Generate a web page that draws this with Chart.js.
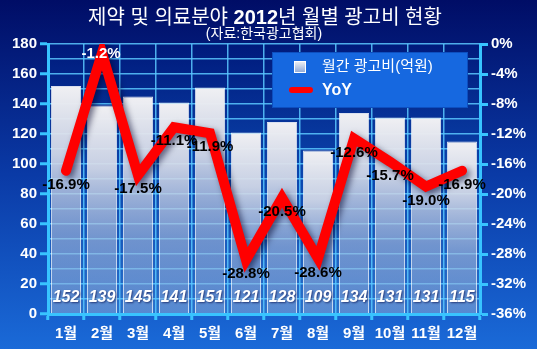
<!DOCTYPE html>
<html>
<head>
<meta charset="utf-8">
<script src="https://cdn.jsdelivr.net/npm/chart.js@4.4.0/dist/chart.umd.min.js"></script>
<style>
    body { margin: 0; overflow: hidden; background: #0a3aa8; }
    #wrap { position: relative; width: 537px; height: 349px; }
    #title {
        position: absolute; left: 0; top: 5px; width: 530px; text-align: center;
        color: #fff; font-family: Arial, 'Liberation Sans', 'Noto Sans CJK KR', sans-serif;
        font-size: 20px; line-height: 24px;
    }
    #subtitle {
        position: absolute; left: 0; top: 24px; width: 528px; text-align: center;
        color: #fff; font-family: Arial, 'Liberation Sans', 'Noto Sans CJK KR', sans-serif;
        font-size: 14px; line-height: 18px;
    }
</style>
</head>
<body>
<div id="wrap">
    <canvas id="chart" width="537" height="349"></canvas>
    <div id="title">제약 및 의료분야 <b>2012</b>년 월별 광고비 현황</div>
    <div id="subtitle">(자료:한국광고협회)</div>
</div>
<script>
// chart data
var months = ['1월', '2월', '3월', '4월', '5월', '6월', '7월', '8월', '9월', '10월', '11월', '12월'];
var ad_spend = [152, 139, 145, 141, 151, 121, 128, 109, 134, 131, 131, 115];
var yoy = [-16.9, -1.2, -17.5, -11.1, -11.9, -28.8, -20.5, -28.6, -12.6, -15.7, -19.0, -16.9];
var series_names = ['월간 광고비(억원)', 'YoY'];

var FONT = "Arial, 'Liberation Sans', 'Noto Sans CJK KR', sans-serif";
var CYAN = '#38c4ff';
var GRID = 'rgba(90, 200, 255, 0.85)';

// gradient backgrounds for the canvas and the plot area
var backgroundPlugin = {
    id: 'backgrounds',
    beforeDraw: function(chart) {
        var ctx = chart.ctx;
        var ca = chart.chartArea;
        var g = ctx.createLinearGradient(0, 0, 0, chart.height);
        g.addColorStop(0, '#000d66');
        g.addColorStop(0.5, '#0a3aa6');
        g.addColorStop(1, '#1a6ad8');
        ctx.save();
        ctx.fillStyle = g;
        ctx.fillRect(0, 0, chart.width, chart.height);
        var g2 = ctx.createLinearGradient(0, ca.top, 0, ca.bottom);
        g2.addColorStop(0, '#001a7c');
        g2.addColorStop(0.5, '#0b46ae');
        g2.addColorStop(1, '#2a72cc');
        ctx.fillStyle = g2;
        ctx.fillRect(ca.left, ca.top, ca.right - ca.left, ca.bottom - ca.top);
        ctx.restore();
    }
};

// value labels: bar values at the bottom, yoy values under the points
var labelsPlugin = {
    id: 'valueLabels',
    beforeDatasetDraw: function(chart, args) {
        // soft shadow under the yoy line
        if (args.index === 1) {
            var ctx = chart.ctx;
            ctx.save();
            ctx.shadowColor = 'rgba(0, 0, 40, 0.55)';
            ctx.shadowBlur = 6;
            ctx.shadowOffsetX = 3;
            ctx.shadowOffsetY = 3;
        }
    },
    afterDatasetDraw: function(chart, args) {
        if (args.index === 1) {
            chart.ctx.restore();
        }
    },
    afterDatasetsDraw: function(chart) {
        var ctx = chart.ctx;
        var ca = chart.chartArea;
        // bar values
        var bars = chart.getDatasetMeta(0).data;
        ctx.save();
        ctx.textAlign = 'center';
        ctx.textBaseline = 'middle';
        ctx.font = 'italic bold 16px ' + FONT;
        ctx.fillStyle = '#ffffff';
        ctx.shadowColor = 'rgba(0, 0, 60, 0.6)';
        ctx.shadowBlur = 2;
        ctx.shadowOffsetX = 1;
        ctx.shadowOffsetY = 1;
        for (var i = 0; i < bars.length; i++) {
            ctx.fillText(ad_spend[i], bars[i].x, ca.bottom - 16);
        }
        ctx.restore();
        // yoy values
        var points = chart.getDatasetMeta(1).data;
        ctx.save();
        ctx.textAlign = 'center';
        ctx.textBaseline = 'middle';
        ctx.font = 'bold 15px ' + FONT;
        for (var j = 0; j < points.length; j++) {
            var p = points[j];
            var text = yoy[j].toFixed(1) + '%';
            if (p.y - ca.top < 20) {
                ctx.fillStyle = '#ffffff';
                ctx.fillText(text, p.x - 1, p.y + 1);
            } else {
                ctx.fillStyle = '#000000';
                ctx.fillText(text, p.x, p.y + 14);
            }
        }
        ctx.restore();
    }
};

// legend box inside the plot
var legendPlugin = {
    id: 'boxLegend',
    afterDraw: function(chart) {
        var ctx = chart.ctx;
        ctx.save();
        ctx.fillStyle = '#1668e0';
        ctx.fillRect(272, 52, 196, 56);
        ctx.strokeStyle = '#0d4fc0';
        ctx.lineWidth = 1;
        ctx.strokeRect(272.5, 52.5, 195, 55);
        // bar icon
        var g = ctx.createLinearGradient(0, 61, 0, 74);
        g.addColorStop(0, '#f4f4f4');
        g.addColorStop(1, '#7f9fd6');
        ctx.fillStyle = g;
        ctx.fillRect(294, 61, 12, 12);
        ctx.strokeStyle = '#ffffff';
        ctx.strokeRect(294.5, 61.5, 11, 11);
        // line icon
        ctx.strokeStyle = '#ff0000';
        ctx.lineWidth = 6;
        ctx.lineCap = 'round';
        ctx.beginPath();
        ctx.moveTo(292, 90);
        ctx.lineTo(310, 90);
        ctx.stroke();
        // texts
        ctx.fillStyle = '#ffffff';
        ctx.textBaseline = 'middle';
        ctx.textAlign = 'left';
        ctx.font = '15px ' + FONT;
        ctx.fillText(series_names[0], 322, 67);
        ctx.font = 'bold 16px ' + FONT;
        ctx.fillText(series_names[1], 322, 91);
        ctx.restore();
    }
};

var ctx = document.getElementById('chart').getContext('2d');
var myChart = new Chart(ctx, {
    type: 'bar',
    data: {
        labels: months,
        datasets: [{
            type: 'bar',
            label: series_names[0],
            data: ad_spend,
            yAxisID: 'y',
            order: 1,
            barPercentage: 0.84,
            categoryPercentage: 1,
            borderColor: 'rgba(255, 255, 255, 0.85)',
            borderWidth: 1,
            backgroundColor: function(c) {
                var chart = c.chart;
                if (!chart.chartArea || !chart.scales.y) return '#dddddd';
                var top = chart.scales.y.getPixelForValue(c.raw);
                var bottom = chart.chartArea.bottom;
                var g = chart.ctx.createLinearGradient(0, top, 0, bottom);
                g.addColorStop(0, 'rgba(240, 240, 243, 1)');
                g.addColorStop(0.3, 'rgba(214, 219, 232, 0.92)');
                g.addColorStop(0.65, 'rgba(170, 186, 218, 0.6)');
                g.addColorStop(1, 'rgba(140, 166, 216, 0.45)');
                return g;
            }
        }, {
            type: 'line',
            label: series_names[1],
            data: yoy,
            yAxisID: 'y1',
            order: 0,
            borderColor: '#ff0000',
            borderWidth: 10,
            borderCapStyle: 'round',
            borderJoinStyle: 'miter',
            pointRadius: 0,
            tension: 0
        }]
    },
    options: {
        responsive: false,
        devicePixelRatio: 1,
        animation: false,
        layout: { padding: { top: 44, left: 0, right: 0, bottom: 0 } },
        plugins: {
            legend: { display: false },
            tooltip: { enabled: false }
        },
        scales: {
            x: {
                offset: true,
                afterFit: function(scale) { scale.height = 35; },
                border: { color: CYAN, width: 3 },
                grid: {
                    offset: true,
                    color: GRID,
                    lineWidth: 1.5,
                    tickLength: 6,
                    tickColor: CYAN,
                    tickWidth: 3
                },
                ticks: {
                    color: '#ffffff',
                    padding: 5,
                    maxRotation: 0,
                    minRotation: 0,
                    autoSkip: false,
                    font: { family: FONT, size: 15, weight: 'bold' }
                }
            },
            y: {
                position: 'left',
                min: 0,
                max: 180,
                afterFit: function(scale) { scale.width = 48; },
                border: { color: CYAN, width: 3 },
                grid: {
                    color: GRID,
                    lineWidth: 1.5,
                    tickLength: 8,
                    tickWidth: 3,
                    tickColor: function(c) {
                        return c.tick && c.tick.value % 20 === 0 ? CYAN : 'rgba(0,0,0,0)';
                    }
                },
                ticks: {
                    stepSize: 10,
                    color: '#ffffff',
                    padding: 3,
                    autoSkip: false,
                    font: { family: FONT, size: 15, weight: 'bold' },
                    callback: function(v) { return v % 20 === 0 ? v : ''; }
                }
            },
            y1: {
                position: 'right',
                min: -36,
                max: 0,
                afterFit: function(scale) { scale.width = 57; },
                border: { color: CYAN, width: 3 },
                grid: {
                    drawOnChartArea: false,
                    tickLength: 8,
                    tickWidth: 3,
                    tickColor: CYAN
                },
                ticks: {
                    stepSize: 4,
                    color: '#ffffff',
                    padding: 3,
                    font: { family: FONT, size: 15, weight: 'bold' },
                    callback: function(v) { return v + '%'; }
                }
            }
        }
    },
    plugins: [backgroundPlugin, labelsPlugin, legendPlugin]
});
</script>
</body>
</html>
